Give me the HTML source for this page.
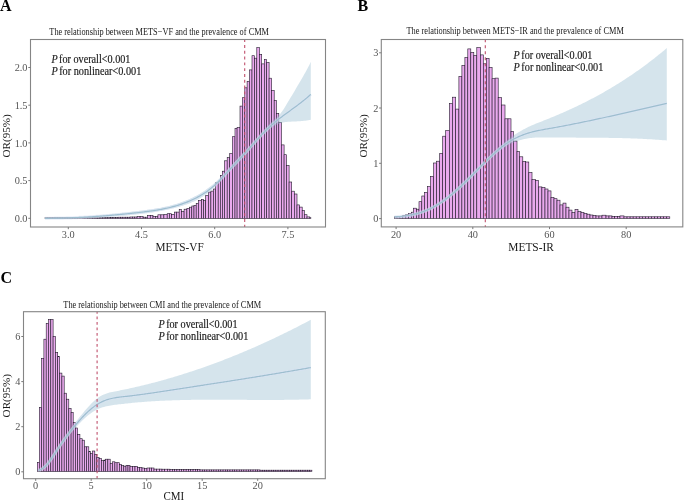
<!DOCTYPE html>
<html><head><meta charset="utf-8"><style>
html,body{margin:0;padding:0;background:#fff;width:685px;height:503px;overflow:hidden;}
svg{display:block;will-change:transform;}
</style></head><body>
<svg width="685" height="503" viewBox="0 0 685 503">
<style>
text { font-family: "Liberation Serif", serif; }
.box { fill: none; stroke: #858585; stroke-width: 1.1; }
.tk { stroke: #7a7a7a; stroke-width: 1; }
.tl { font-size: 10.3px; fill: #555; }
.ttl { font-size: 10.2px; fill: #1a1a1a; }
.pt { font-size: 11.8px; fill: #1a1a1a; stroke: #1a1a1a; stroke-width: 0.18; }
.ax { font-size: 12.4px; fill: #1a1a1a; }
.ay { font-size: 11.2px; fill: #1a1a1a; }
.lab { font-size: 16px; font-weight: bold; fill: #000; }
.bar rect { fill: #eaaaee; stroke: #20182a; stroke-width: 0.6; }
.band { fill: #97bccf; opacity: 0.4; }
.ln { fill: none; stroke: #9dbecf; stroke-width: 1.2; }
.glow { fill: none; stroke: #d8e2f4; stroke-width: 3.2; opacity: 0.55; }
.dash { stroke: #c0506c; stroke-width: 1.1; }
</style>
<rect width="685" height="503" fill="#fff"/>
<!-- Panel A -->
<text class="lab" x="0" y="10.6">A</text>
<text class="ttl" x="49.3" y="34.8" textLength="219.7" lengthAdjust="spacingAndGlyphs">The relationship between METS&#8722;VF and the prevalence of CMM</text>
<g class="bar"><rect x="45.00" y="217.70" width="2.50" height="0.70"/><rect x="47.50" y="217.70" width="2.50" height="0.70"/><rect x="50.00" y="217.70" width="2.50" height="0.70"/><rect x="52.50" y="217.70" width="2.50" height="0.70"/><rect x="55.00" y="217.70" width="2.50" height="0.70"/><rect x="57.50" y="217.70" width="2.50" height="0.70"/><rect x="60.00" y="217.70" width="2.50" height="0.70"/><rect x="62.50" y="217.70" width="2.50" height="0.70"/><rect x="65.00" y="217.70" width="2.50" height="0.70"/><rect x="67.50" y="217.70" width="2.50" height="0.70"/><rect x="70.00" y="217.70" width="2.50" height="0.70"/><rect x="72.50" y="217.70" width="2.50" height="0.70"/><rect x="75.00" y="217.70" width="2.50" height="0.70"/><rect x="77.50" y="217.70" width="2.50" height="0.70"/><rect x="80.00" y="217.70" width="2.50" height="0.70"/><rect x="82.50" y="217.70" width="2.50" height="0.70"/><rect x="85.00" y="217.70" width="2.50" height="0.70"/><rect x="87.50" y="217.70" width="2.50" height="0.70"/><rect x="90.00" y="217.70" width="2.50" height="0.70"/><rect x="92.50" y="217.70" width="2.50" height="0.70"/><rect x="95.00" y="217.70" width="2.50" height="0.70"/><rect x="97.50" y="217.70" width="2.50" height="0.70"/><rect x="100.00" y="217.60" width="2.57" height="0.80"/><rect x="102.57" y="217.60" width="2.57" height="0.80"/><rect x="105.14" y="217.60" width="2.57" height="0.80"/><rect x="107.71" y="217.60" width="2.57" height="0.80"/><rect x="110.29" y="217.60" width="2.57" height="0.80"/><rect x="112.86" y="217.60" width="2.57" height="0.80"/><rect x="115.43" y="217.60" width="2.57" height="0.80"/><rect x="118.00" y="217.20" width="2.40" height="1.20"/><rect x="120.40" y="217.20" width="2.40" height="1.20"/><rect x="122.80" y="217.20" width="2.40" height="1.20"/><rect x="125.20" y="217.20" width="2.40" height="1.20"/><rect x="127.60" y="217.20" width="2.40" height="1.20"/><rect x="130.00" y="217.00" width="2.37" height="1.40"/><rect x="132.37" y="217.00" width="2.37" height="1.40"/><rect x="134.73" y="217.00" width="2.37" height="1.40"/><rect x="137.10" y="216.50" width="3.00" height="1.90"/><rect x="140.10" y="216.50" width="3.00" height="1.90"/><rect x="143.10" y="217.20" width="2.20" height="1.20"/><rect x="145.30" y="217.20" width="2.20" height="1.20"/><rect x="147.50" y="215.40" width="2.75" height="3.00"/><rect x="150.25" y="215.40" width="2.75" height="3.00"/><rect x="153.00" y="216.50" width="2.45" height="1.90"/><rect x="155.45" y="216.50" width="2.45" height="1.90"/><rect x="157.90" y="214.80" width="3.00" height="3.60"/><rect x="160.90" y="214.80" width="3.00" height="3.60"/><rect x="163.90" y="214.60" width="3.30" height="3.80"/><rect x="167.20" y="213.70" width="2.20" height="4.70"/><rect x="169.40" y="213.70" width="2.20" height="4.70"/><rect x="171.60" y="214.30" width="2.70" height="4.10"/><rect x="174.30" y="212.10" width="2.45" height="6.30"/><rect x="176.75" y="212.10" width="2.45" height="6.30"/><rect x="179.20" y="209.60" width="2.20" height="8.80"/><rect x="181.40" y="211.30" width="2.70" height="7.10"/><rect x="184.10" y="209.20" width="2.80" height="9.20"/><rect x="186.90" y="208.30" width="2.70" height="10.10"/><rect x="189.60" y="207.20" width="2.20" height="11.20"/><rect x="191.80" y="206.00" width="2.20" height="12.40"/><rect x="194.00" y="205.50" width="2.20" height="12.90"/><rect x="196.20" y="203.50" width="2.20" height="14.90"/><rect x="198.40" y="200.50" width="3.10" height="17.90"/><rect x="201.50" y="199.40" width="2.10" height="19.00"/><rect x="203.60" y="200.50" width="2.10" height="17.90"/><rect x="205.70" y="195.30" width="2.70" height="23.10"/><rect x="208.40" y="192.10" width="2.50" height="26.30"/><rect x="210.90" y="191.10" width="2.50" height="27.30"/><rect x="213.40" y="189.00" width="2.10" height="29.40"/><rect x="215.50" y="182.70" width="2.70" height="35.70"/><rect x="218.20" y="181.70" width="2.10" height="36.70"/><rect x="220.30" y="175.40" width="2.10" height="43.00"/><rect x="222.40" y="171.20" width="2.10" height="47.20"/><rect x="224.50" y="160.80" width="2.70" height="57.60"/><rect x="227.20" y="157.60" width="2.50" height="60.80"/><rect x="229.70" y="153.50" width="2.70" height="64.90"/><rect x="232.40" y="136.70" width="2.60" height="81.70"/><rect x="235.00" y="128.40" width="2.10" height="90.00"/><rect x="237.10" y="127.30" width="2.90" height="91.10"/><rect x="240.00" y="106.10" width="2.40" height="112.30"/><rect x="242.40" y="97.70" width="2.40" height="120.70"/><rect x="244.80" y="87.80" width="2.30" height="130.60"/><rect x="247.10" y="81.40" width="2.40" height="137.00"/><rect x="249.50" y="69.90" width="2.50" height="148.50"/><rect x="252.00" y="55.70" width="2.60" height="162.70"/><rect x="254.60" y="58.20" width="2.20" height="160.20"/><rect x="256.80" y="47.60" width="2.70" height="170.80"/><rect x="259.50" y="54.30" width="2.20" height="164.10"/><rect x="261.70" y="63.90" width="2.60" height="154.50"/><rect x="264.30" y="59.60" width="2.40" height="158.80"/><rect x="266.70" y="62.50" width="2.40" height="155.90"/><rect x="269.10" y="78.20" width="2.50" height="140.20"/><rect x="271.60" y="90.40" width="2.60" height="128.00"/><rect x="274.20" y="100.40" width="2.20" height="118.00"/><rect x="276.40" y="113.40" width="2.40" height="105.00"/><rect x="278.80" y="122.30" width="2.60" height="96.10"/><rect x="281.40" y="144.90" width="2.70" height="73.50"/><rect x="284.10" y="154.70" width="2.40" height="63.70"/><rect x="286.50" y="165.60" width="2.60" height="52.80"/><rect x="289.10" y="182.00" width="2.60" height="36.40"/><rect x="291.70" y="191.20" width="2.60" height="27.20"/><rect x="294.30" y="194.00" width="2.70" height="24.40"/><rect x="297.00" y="204.90" width="2.60" height="13.50"/><rect x="299.60" y="207.10" width="2.60" height="11.30"/><rect x="302.20" y="210.40" width="2.20" height="8.00"/><rect x="304.40" y="214.70" width="2.60" height="3.70"/><rect x="307.00" y="216.90" width="2.80" height="1.50"/><rect x="309.80" y="217.70" width="1.10" height="0.70"/></g>
<path class="band" d="M45.00,217.59 L46.34,217.59 L47.67,217.59 L49.01,217.59 L50.34,217.58 L51.68,217.57 L53.01,217.56 L54.35,217.54 L55.69,217.52 L57.02,217.50 L58.36,217.47 L59.69,217.44 L61.03,217.40 L62.36,217.36 L63.70,217.32 L65.04,217.28 L66.37,217.23 L67.71,217.18 L69.04,217.13 L70.38,217.07 L71.71,217.01 L73.05,216.95 L74.38,216.88 L75.72,216.81 L77.06,216.74 L78.39,216.66 L79.73,216.59 L81.06,216.51 L82.40,216.42 L83.73,216.34 L85.07,216.25 L86.41,216.16 L87.74,216.06 L89.08,215.97 L90.41,215.87 L91.75,215.77 L93.08,215.66 L94.42,215.56 L95.76,215.45 L97.09,215.34 L98.43,215.23 L99.76,215.11 L101.10,214.99 L102.43,214.87 L103.77,214.75 L105.11,214.63 L106.44,214.50 L107.78,214.37 L109.11,214.24 L110.45,214.11 L111.78,213.98 L113.12,213.84 L114.46,213.71 L115.79,213.57 L117.13,213.42 L118.46,213.28 L119.80,213.14 L121.13,212.99 L122.47,212.84 L123.81,212.69 L125.14,212.54 L126.48,212.39 L127.81,212.24 L129.15,212.08 L130.48,211.93 L131.82,211.77 L133.15,211.61 L134.49,211.45 L135.83,211.29 L137.16,211.12 L138.50,210.96 L139.83,210.80 L141.17,210.63 L142.50,210.46 L143.84,210.29 L145.18,210.12 L146.51,209.94 L147.85,209.76 L149.18,209.58 L150.52,209.39 L151.85,209.19 L153.19,208.99 L154.53,208.79 L155.86,208.57 L157.20,208.35 L158.53,208.12 L159.87,207.88 L161.20,207.63 L162.54,207.37 L163.88,207.10 L165.21,206.81 L166.55,206.52 L167.88,206.21 L169.22,205.89 L170.55,205.56 L171.89,205.21 L173.23,204.85 L174.56,204.47 L175.90,204.08 L177.23,203.67 L178.57,203.24 L179.90,202.80 L181.24,202.34 L182.57,201.86 L183.91,201.36 L185.25,200.84 L186.58,200.29 L187.92,199.73 L189.25,199.15 L190.59,198.54 L191.92,197.91 L193.26,197.26 L194.60,196.59 L195.93,195.89 L197.27,195.16 L198.60,194.41 L199.94,193.63 L201.27,192.82 L202.61,191.99 L203.95,191.13 L205.28,190.23 L206.62,189.31 L207.95,188.35 L209.29,187.36 L210.62,186.34 L211.96,185.28 L213.30,184.19 L214.63,183.06 L215.97,181.90 L217.30,180.70 L218.64,179.46 L219.97,178.18 L221.31,176.86 L222.65,175.49 L223.98,174.09 L225.32,172.64 L226.65,171.15 L227.99,169.62 L229.32,168.05 L230.66,166.46 L231.99,164.87 L233.33,163.29 L234.67,161.73 L236.00,160.21 L237.34,158.75 L238.67,157.34 L240.01,155.98 L241.34,154.66 L242.68,153.36 L244.02,152.07 L245.35,150.78 L246.69,149.48 L248.02,148.15 L249.36,146.78 L250.69,145.36 L252.03,143.89 L253.37,142.37 L254.70,140.82 L256.04,139.24 L257.37,137.65 L258.71,136.04 L260.04,134.44 L261.38,132.84 L262.72,131.27 L264.05,129.72 L265.39,128.21 L266.72,126.74 L268.06,125.33 L269.39,123.98 L270.73,122.70 L272.07,121.49 L273.40,120.34 L274.74,119.20 L276.07,118.03 L277.41,116.79 L278.74,115.46 L280.08,113.98 L281.42,112.33 L282.75,110.46 L284.09,108.41 L285.42,106.25 L286.76,104.04 L288.09,101.82 L289.43,99.60 L290.76,97.37 L292.10,95.13 L293.44,92.89 L294.77,90.63 L296.11,88.37 L297.44,86.10 L298.78,83.81 L300.11,81.52 L301.45,79.22 L302.79,76.90 L304.12,74.58 L305.46,72.23 L306.79,69.82 L308.13,67.31 L309.46,64.66 L310.80,61.82 L310.80,119.74 L309.46,120.04 L308.13,120.30 L306.79,120.52 L305.46,120.70 L304.12,120.86 L302.79,121.00 L301.45,121.11 L300.11,121.20 L298.78,121.28 L297.44,121.35 L296.11,121.41 L294.77,121.47 L293.44,121.52 L292.10,121.58 L290.76,121.64 L289.43,121.71 L288.09,121.80 L286.76,121.92 L285.42,122.07 L284.09,122.27 L282.75,122.52 L281.42,122.84 L280.08,123.23 L278.74,123.70 L277.41,124.27 L276.07,124.93 L274.74,125.68 L273.40,126.52 L272.07,127.44 L270.73,128.44 L269.39,129.51 L268.06,130.64 L266.72,131.84 L265.39,133.09 L264.05,134.40 L262.72,135.75 L261.38,137.14 L260.04,138.56 L258.71,140.02 L257.37,141.50 L256.04,143.00 L254.70,144.52 L253.37,146.05 L252.03,147.58 L250.69,149.11 L249.36,150.64 L248.02,152.16 L246.69,153.66 L245.35,155.14 L244.02,156.59 L242.68,158.02 L241.34,159.43 L240.01,160.82 L238.67,162.20 L237.34,163.56 L236.00,164.92 L234.67,166.27 L233.33,167.62 L231.99,168.97 L230.66,170.32 L229.32,171.69 L227.99,173.06 L226.65,174.45 L225.32,175.85 L223.98,177.27 L222.65,178.68 L221.31,180.10 L219.97,181.51 L218.64,182.90 L217.30,184.28 L215.97,185.63 L214.63,186.95 L213.30,188.23 L211.96,189.47 L210.62,190.67 L209.29,191.81 L207.95,192.89 L206.62,193.92 L205.28,194.90 L203.95,195.84 L202.61,196.72 L201.27,197.56 L199.94,198.36 L198.60,199.11 L197.27,199.83 L195.93,200.51 L194.60,201.15 L193.26,201.76 L191.92,202.34 L190.59,202.89 L189.25,203.42 L187.92,203.92 L186.58,204.39 L185.25,204.85 L183.91,205.29 L182.57,205.71 L181.24,206.11 L179.90,206.50 L178.57,206.88 L177.23,207.25 L175.90,207.61 L174.56,207.96 L173.23,208.29 L171.89,208.62 L170.55,208.93 L169.22,209.24 L167.88,209.53 L166.55,209.82 L165.21,210.10 L163.88,210.36 L162.54,210.62 L161.20,210.88 L159.87,211.12 L158.53,211.35 L157.20,211.58 L155.86,211.80 L154.53,212.02 L153.19,212.22 L151.85,212.43 L150.52,212.62 L149.18,212.81 L147.85,212.99 L146.51,213.17 L145.18,213.35 L143.84,213.52 L142.50,213.68 L141.17,213.84 L139.83,214.00 L138.50,214.15 L137.16,214.31 L135.83,214.45 L134.49,214.60 L133.15,214.74 L131.82,214.87 L130.48,215.01 L129.15,215.14 L127.81,215.27 L126.48,215.39 L125.14,215.51 L123.81,215.63 L122.47,215.75 L121.13,215.86 L119.80,215.97 L118.46,216.08 L117.13,216.18 L115.79,216.29 L114.46,216.39 L113.12,216.48 L111.78,216.58 L110.45,216.67 L109.11,216.76 L107.78,216.84 L106.44,216.93 L105.11,217.01 L103.77,217.09 L102.43,217.17 L101.10,217.24 L99.76,217.32 L98.43,217.39 L97.09,217.46 L95.76,217.52 L94.42,217.59 L93.08,217.65 L91.75,217.71 L90.41,217.77 L89.08,217.83 L87.74,217.88 L86.41,217.94 L85.07,217.99 L83.73,218.04 L82.40,218.09 L81.06,218.14 L79.73,218.18 L78.39,218.23 L77.06,218.27 L75.72,218.31 L74.38,218.35 L73.05,218.39 L71.71,218.43 L70.38,218.47 L69.04,218.50 L67.71,218.54 L66.37,218.57 L65.04,218.60 L63.70,218.64 L62.36,218.67 L61.03,218.70 L59.69,218.73 L58.36,218.75 L57.02,218.78 L55.69,218.81 L54.35,218.83 L53.01,218.86 L51.68,218.88 L50.34,218.91 L49.01,218.93 L47.67,218.96 L46.34,218.98 L45.00,219.00 Z"/>
<path class="glow" d="M45.00,218.29 L46.07,218.29 L47.13,218.29 L48.20,218.28 L49.27,218.28 L50.34,218.27 L51.40,218.26 L52.47,218.25 L53.54,218.24 L54.61,218.22 L55.67,218.21 L56.74,218.19 L57.81,218.17 L58.88,218.15 L59.94,218.13 L61.01,218.10 L62.08,218.08 L63.15,218.05 L64.21,218.02 L65.28,217.99 L66.35,217.96 L67.42,217.93 L68.48,217.89 L69.55,217.86 L70.62,217.82 L71.69,217.78 L72.75,217.74 L73.82,217.69 L74.89,217.65 L75.96,217.60 L77.02,217.56 L78.09,217.51 L79.16,217.46 L80.23,217.41 L81.29,217.35 L82.36,217.30 L83.43,217.24 L84.50,217.19 L85.56,217.13 L86.63,217.07 L87.70,217.00 L88.77,216.94 L89.83,216.88 L90.90,216.81 L91.97,216.74 L93.04,216.67 L94.10,216.60 L95.17,216.53 L96.24,216.46 L97.31,216.38 L98.37,216.31 L99.44,216.23 L100.51,216.15 L101.58,216.07 L102.64,215.99 L103.71,215.91 L104.78,215.83 L105.85,215.74 L106.91,215.65 L107.98,215.57 L109.05,215.48 L110.12,215.39 L111.18,215.30 L112.25,215.20 L113.32,215.11 L114.39,215.01 L115.45,214.92 L116.52,214.82 L117.59,214.72 L118.66,214.62 L119.72,214.52 L120.79,214.41 L121.86,214.31 L122.93,214.21 L123.99,214.10 L125.06,213.99 L126.13,213.88 L127.20,213.77 L128.26,213.66 L129.33,213.55 L130.40,213.43 L131.47,213.32 L132.53,213.20 L133.60,213.09 L134.67,212.97 L135.73,212.85 L136.80,212.73 L137.87,212.61 L138.94,212.49 L140.00,212.36 L141.07,212.24 L142.14,212.11 L143.21,211.98 L144.27,211.85 L145.34,211.72 L146.41,211.59 L147.48,211.45 L148.54,211.31 L149.61,211.17 L150.68,211.02 L151.75,210.87 L152.81,210.72 L153.88,210.56 L154.95,210.39 L156.02,210.23 L157.08,210.05 L158.15,209.87 L159.22,209.69 L160.29,209.50 L161.35,209.30 L162.42,209.10 L163.49,208.89 L164.56,208.68 L165.62,208.45 L166.69,208.22 L167.76,207.98 L168.83,207.74 L169.89,207.48 L170.96,207.22 L172.03,206.95 L173.10,206.67 L174.16,206.38 L175.23,206.08 L176.30,205.77 L177.37,205.45 L178.43,205.12 L179.50,204.78 L180.57,204.43 L181.64,204.06 L182.70,203.69 L183.77,203.30 L184.84,202.90 L185.91,202.49 L186.97,202.07 L188.04,201.64 L189.11,201.19 L190.18,200.73 L191.24,200.25 L192.31,199.76 L193.38,199.26 L194.45,198.74 L195.51,198.21 L196.58,197.66 L197.65,197.10 L198.72,196.52 L199.78,195.92 L200.85,195.31 L201.92,194.67 L202.99,194.02 L204.05,193.34 L205.12,192.64 L206.19,191.92 L207.26,191.17 L208.32,190.39 L209.39,189.59 L210.46,188.76 L211.53,187.90 L212.59,187.01 L213.66,186.09 L214.73,185.13 L215.80,184.15 L216.86,183.13 L217.93,182.07 L219.00,180.99 L220.07,179.89 L221.13,178.76 L222.20,177.63 L223.27,176.48 L224.33,175.32 L225.40,174.16 L226.47,173.00 L227.54,171.85 L228.60,170.71 L229.67,169.57 L230.74,168.43 L231.81,167.30 L232.87,166.17 L233.94,165.05 L235.01,163.92 L236.08,162.79 L237.14,161.67 L238.21,160.53 L239.28,159.40 L240.35,158.26 L241.41,157.12 L242.48,155.97 L243.55,154.81 L244.62,153.64 L245.68,152.46 L246.75,151.27 L247.82,150.08 L248.89,148.88 L249.95,147.68 L251.02,146.47 L252.09,145.27 L253.16,144.06 L254.22,142.86 L255.29,141.66 L256.36,140.47 L257.43,139.29 L258.49,138.12 L259.56,136.96 L260.63,135.82 L261.70,134.69 L262.76,133.57 L263.83,132.48 L264.90,131.41 L265.97,130.36 L267.03,129.32 L268.10,128.31 L269.17,127.32 L270.24,126.34 L271.30,125.38 L272.37,124.44 L273.44,123.52 L274.51,122.61 L275.57,121.71 L276.64,120.84 L277.71,119.97 L278.78,119.12 L279.84,118.29 L280.91,117.46 L281.98,116.65 L283.05,115.84 L284.11,115.04 L285.18,114.25 L286.25,113.47 L287.32,112.69 L288.38,111.91 L289.45,111.14 L290.52,110.36 L291.59,109.59 L292.65,108.81 L293.72,108.04 L294.79,107.26 L295.86,106.47 L296.92,105.68 L297.99,104.88 L299.06,104.07 L300.13,103.26 L301.19,102.43 L302.26,101.59 L303.33,100.74 L304.40,99.88 L305.46,99.00 L306.53,98.10 L307.60,97.18 L308.67,96.25 L309.73,95.30 L310.80,94.32"/>
<path class="ln" d="M45.00,218.29 L46.07,218.29 L47.13,218.29 L48.20,218.28 L49.27,218.28 L50.34,218.27 L51.40,218.26 L52.47,218.25 L53.54,218.24 L54.61,218.22 L55.67,218.21 L56.74,218.19 L57.81,218.17 L58.88,218.15 L59.94,218.13 L61.01,218.10 L62.08,218.08 L63.15,218.05 L64.21,218.02 L65.28,217.99 L66.35,217.96 L67.42,217.93 L68.48,217.89 L69.55,217.86 L70.62,217.82 L71.69,217.78 L72.75,217.74 L73.82,217.69 L74.89,217.65 L75.96,217.60 L77.02,217.56 L78.09,217.51 L79.16,217.46 L80.23,217.41 L81.29,217.35 L82.36,217.30 L83.43,217.24 L84.50,217.19 L85.56,217.13 L86.63,217.07 L87.70,217.00 L88.77,216.94 L89.83,216.88 L90.90,216.81 L91.97,216.74 L93.04,216.67 L94.10,216.60 L95.17,216.53 L96.24,216.46 L97.31,216.38 L98.37,216.31 L99.44,216.23 L100.51,216.15 L101.58,216.07 L102.64,215.99 L103.71,215.91 L104.78,215.83 L105.85,215.74 L106.91,215.65 L107.98,215.57 L109.05,215.48 L110.12,215.39 L111.18,215.30 L112.25,215.20 L113.32,215.11 L114.39,215.01 L115.45,214.92 L116.52,214.82 L117.59,214.72 L118.66,214.62 L119.72,214.52 L120.79,214.41 L121.86,214.31 L122.93,214.21 L123.99,214.10 L125.06,213.99 L126.13,213.88 L127.20,213.77 L128.26,213.66 L129.33,213.55 L130.40,213.43 L131.47,213.32 L132.53,213.20 L133.60,213.09 L134.67,212.97 L135.73,212.85 L136.80,212.73 L137.87,212.61 L138.94,212.49 L140.00,212.36 L141.07,212.24 L142.14,212.11 L143.21,211.98 L144.27,211.85 L145.34,211.72 L146.41,211.59 L147.48,211.45 L148.54,211.31 L149.61,211.17 L150.68,211.02 L151.75,210.87 L152.81,210.72 L153.88,210.56 L154.95,210.39 L156.02,210.23 L157.08,210.05 L158.15,209.87 L159.22,209.69 L160.29,209.50 L161.35,209.30 L162.42,209.10 L163.49,208.89 L164.56,208.68 L165.62,208.45 L166.69,208.22 L167.76,207.98 L168.83,207.74 L169.89,207.48 L170.96,207.22 L172.03,206.95 L173.10,206.67 L174.16,206.38 L175.23,206.08 L176.30,205.77 L177.37,205.45 L178.43,205.12 L179.50,204.78 L180.57,204.43 L181.64,204.06 L182.70,203.69 L183.77,203.30 L184.84,202.90 L185.91,202.49 L186.97,202.07 L188.04,201.64 L189.11,201.19 L190.18,200.73 L191.24,200.25 L192.31,199.76 L193.38,199.26 L194.45,198.74 L195.51,198.21 L196.58,197.66 L197.65,197.10 L198.72,196.52 L199.78,195.92 L200.85,195.31 L201.92,194.67 L202.99,194.02 L204.05,193.34 L205.12,192.64 L206.19,191.92 L207.26,191.17 L208.32,190.39 L209.39,189.59 L210.46,188.76 L211.53,187.90 L212.59,187.01 L213.66,186.09 L214.73,185.13 L215.80,184.15 L216.86,183.13 L217.93,182.07 L219.00,180.99 L220.07,179.89 L221.13,178.76 L222.20,177.63 L223.27,176.48 L224.33,175.32 L225.40,174.16 L226.47,173.00 L227.54,171.85 L228.60,170.71 L229.67,169.57 L230.74,168.43 L231.81,167.30 L232.87,166.17 L233.94,165.05 L235.01,163.92 L236.08,162.79 L237.14,161.67 L238.21,160.53 L239.28,159.40 L240.35,158.26 L241.41,157.12 L242.48,155.97 L243.55,154.81 L244.62,153.64 L245.68,152.46 L246.75,151.27 L247.82,150.08 L248.89,148.88 L249.95,147.68 L251.02,146.47 L252.09,145.27 L253.16,144.06 L254.22,142.86 L255.29,141.66 L256.36,140.47 L257.43,139.29 L258.49,138.12 L259.56,136.96 L260.63,135.82 L261.70,134.69 L262.76,133.57 L263.83,132.48 L264.90,131.41 L265.97,130.36 L267.03,129.32 L268.10,128.31 L269.17,127.32 L270.24,126.34 L271.30,125.38 L272.37,124.44 L273.44,123.52 L274.51,122.61 L275.57,121.71 L276.64,120.84 L277.71,119.97 L278.78,119.12 L279.84,118.29 L280.91,117.46 L281.98,116.65 L283.05,115.84 L284.11,115.04 L285.18,114.25 L286.25,113.47 L287.32,112.69 L288.38,111.91 L289.45,111.14 L290.52,110.36 L291.59,109.59 L292.65,108.81 L293.72,108.04 L294.79,107.26 L295.86,106.47 L296.92,105.68 L297.99,104.88 L299.06,104.07 L300.13,103.26 L301.19,102.43 L302.26,101.59 L303.33,100.74 L304.40,99.88 L305.46,99.00 L306.53,98.10 L307.60,97.18 L308.67,96.25 L309.73,95.30 L310.80,94.32"/>
<line class="dash" x1="244.7" y1="39.5" x2="244.7" y2="227" stroke-dasharray="2.90 2.90" stroke-dashoffset="0.3"/>
<text class="pt" x="51.4" y="62.6" textLength="79.0" lengthAdjust="spacingAndGlyphs"><tspan font-style="italic">P</tspan><tspan dx="-1.2"> for overall&lt;0.001</tspan></text><text class="pt" x="51.4" y="74.6" textLength="89.9" lengthAdjust="spacingAndGlyphs"><tspan font-style="italic">P</tspan><tspan dx="-1.2"> for nonlinear&lt;0.001</tspan></text>
<rect class="box" x="30.5" y="39.5" width="295.0" height="187.5"/>
<line class="tk" x1="28.3" y1="218.3" x2="30.5" y2="218.3"/><text class="tl" x="27.5" y="221.9" text-anchor="end">0.0</text><line class="tk" x1="28.3" y1="180.6" x2="30.5" y2="180.6"/><text class="tl" x="27.5" y="184.2" text-anchor="end">0.5</text><line class="tk" x1="28.3" y1="142.9" x2="30.5" y2="142.9"/><text class="tl" x="27.5" y="146.5" text-anchor="end">1.0</text><line class="tk" x1="28.3" y1="105.2" x2="30.5" y2="105.2"/><text class="tl" x="27.5" y="108.8" text-anchor="end">1.5</text><line class="tk" x1="28.3" y1="67.5" x2="30.5" y2="67.5"/><text class="tl" x="27.5" y="71.1" text-anchor="end">2.0</text>
<line class="tk" x1="68.3" y1="227" x2="68.3" y2="229.2"/><text class="tl" x="68.3" y="238.2" text-anchor="middle">3.0</text><line class="tk" x1="141.5" y1="227" x2="141.5" y2="229.2"/><text class="tl" x="141.5" y="238.2" text-anchor="middle">4.5</text><line class="tk" x1="214.7" y1="227" x2="214.7" y2="229.2"/><text class="tl" x="214.7" y="238.2" text-anchor="middle">6.0</text><line class="tk" x1="287.9" y1="227" x2="287.9" y2="229.2"/><text class="tl" x="287.9" y="238.2" text-anchor="middle">7.5</text>
<text class="ax" x="155.5" y="251.3" textLength="48.2" lengthAdjust="spacingAndGlyphs">METS-VF</text>
<text class="ay" transform="translate(10.4,157.5) rotate(-90)" textLength="43.3" lengthAdjust="spacingAndGlyphs">OR(95%)</text>
<!-- Panel B -->
<text class="lab" x="357.5" y="10.6">B</text>
<text class="ttl" x="406.4" y="34.3" textLength="217.4" lengthAdjust="spacingAndGlyphs">The relationship between METS&#8722;IR and the prevalence of CMM</text>
<g class="bar"><rect x="394.50" y="216.90" width="2.50" height="1.40"/><rect x="397.00" y="216.30" width="2.90" height="2.00"/><rect x="399.90" y="216.30" width="2.90" height="2.00"/><rect x="402.80" y="215.30" width="3.00" height="3.00"/><rect x="405.80" y="214.30" width="2.80" height="4.00"/><rect x="408.60" y="213.30" width="2.70" height="5.00"/><rect x="411.30" y="212.20" width="2.00" height="6.10"/><rect x="413.30" y="208.20" width="3.10" height="10.10"/><rect x="416.40" y="209.20" width="2.60" height="9.10"/><rect x="419.00" y="201.70" width="2.80" height="16.60"/><rect x="421.80" y="196.00" width="2.70" height="22.30"/><rect x="424.50" y="192.40" width="3.00" height="25.90"/><rect x="427.50" y="186.50" width="3.00" height="31.80"/><rect x="430.50" y="176.40" width="3.10" height="41.90"/><rect x="433.60" y="163.00" width="3.00" height="55.30"/><rect x="436.60" y="161.20" width="3.10" height="57.10"/><rect x="439.70" y="153.40" width="3.00" height="64.90"/><rect x="442.70" y="136.20" width="3.00" height="82.10"/><rect x="445.70" y="130.50" width="3.70" height="87.80"/><rect x="449.40" y="103.60" width="3.10" height="114.70"/><rect x="452.50" y="97.20" width="3.20" height="121.10"/><rect x="455.70" y="109.10" width="3.20" height="109.20"/><rect x="458.90" y="76.40" width="3.00" height="141.90"/><rect x="461.90" y="65.40" width="3.00" height="152.90"/><rect x="464.90" y="57.50" width="2.90" height="160.80"/><rect x="467.80" y="48.90" width="3.00" height="169.40"/><rect x="470.80" y="52.30" width="3.00" height="166.00"/><rect x="473.80" y="55.50" width="3.00" height="162.80"/><rect x="476.80" y="47.60" width="3.60" height="170.70"/><rect x="480.40" y="54.90" width="2.90" height="163.40"/><rect x="483.30" y="63.80" width="3.00" height="154.50"/><rect x="486.30" y="58.30" width="2.80" height="160.00"/><rect x="489.10" y="67.40" width="3.00" height="150.90"/><rect x="492.10" y="78.70" width="3.00" height="139.60"/><rect x="495.10" y="78.10" width="3.10" height="140.20"/><rect x="498.20" y="97.60" width="3.40" height="120.70"/><rect x="501.60" y="105.00" width="3.40" height="113.30"/><rect x="505.00" y="118.80" width="3.00" height="99.50"/><rect x="508.00" y="118.80" width="3.00" height="99.50"/><rect x="511.00" y="131.40" width="2.60" height="86.90"/><rect x="513.60" y="141.10" width="3.40" height="77.20"/><rect x="517.00" y="151.60" width="2.60" height="66.70"/><rect x="519.60" y="156.80" width="3.20" height="61.50"/><rect x="522.80" y="161.30" width="2.90" height="57.00"/><rect x="525.70" y="162.00" width="3.10" height="56.30"/><rect x="528.80" y="172.50" width="3.20" height="45.80"/><rect x="532.00" y="179.60" width="3.40" height="38.70"/><rect x="535.40" y="180.40" width="3.10" height="37.90"/><rect x="538.50" y="186.90" width="3.40" height="31.40"/><rect x="541.90" y="187.50" width="3.10" height="30.80"/><rect x="545.00" y="189.00" width="3.00" height="29.30"/><rect x="548.00" y="190.90" width="3.00" height="27.40"/><rect x="551.00" y="197.40" width="3.00" height="20.90"/><rect x="554.00" y="198.70" width="3.00" height="19.60"/><rect x="557.00" y="200.20" width="3.00" height="18.10"/><rect x="560.00" y="204.90" width="3.00" height="13.40"/><rect x="563.00" y="203.10" width="3.00" height="15.20"/><rect x="566.00" y="207.20" width="3.00" height="11.10"/><rect x="569.00" y="210.10" width="3.00" height="8.20"/><rect x="572.00" y="212.40" width="3.00" height="5.90"/><rect x="575.00" y="209.40" width="3.00" height="8.90"/><rect x="578.00" y="211.50" width="3.00" height="6.80"/><rect x="581.00" y="212.40" width="3.00" height="5.90"/><rect x="584.00" y="213.30" width="3.00" height="5.00"/><rect x="587.00" y="214.20" width="3.00" height="4.10"/><rect x="590.00" y="215.00" width="3.00" height="3.30"/><rect x="593.00" y="215.40" width="3.00" height="2.90"/><rect x="596.00" y="215.90" width="3.00" height="2.40"/><rect x="599.00" y="215.90" width="3.00" height="2.40"/><rect x="602.00" y="215.20" width="4.00" height="3.10"/><rect x="606.00" y="215.90" width="3.00" height="2.40"/><rect x="609.00" y="215.90" width="3.00" height="2.40"/><rect x="612.00" y="216.40" width="2.67" height="1.90"/><rect x="614.67" y="216.40" width="2.67" height="1.90"/><rect x="617.33" y="216.40" width="2.67" height="1.90"/><rect x="620.00" y="215.90" width="4.00" height="2.40"/><rect x="624.00" y="216.80" width="3.05" height="1.50"/><rect x="627.05" y="216.80" width="3.05" height="1.50"/><rect x="630.11" y="216.80" width="3.05" height="1.50"/><rect x="633.16" y="216.80" width="3.05" height="1.50"/><rect x="636.21" y="216.80" width="3.05" height="1.50"/><rect x="639.27" y="216.80" width="3.05" height="1.50"/><rect x="642.32" y="216.80" width="3.05" height="1.50"/><rect x="645.37" y="216.80" width="3.05" height="1.50"/><rect x="648.43" y="216.80" width="3.05" height="1.50"/><rect x="651.48" y="216.80" width="3.05" height="1.50"/><rect x="654.53" y="216.80" width="3.05" height="1.50"/><rect x="657.59" y="216.80" width="3.05" height="1.50"/><rect x="660.64" y="216.80" width="3.05" height="1.50"/><rect x="663.69" y="216.80" width="3.05" height="1.50"/><rect x="666.75" y="216.80" width="3.05" height="1.50"/></g>
<path class="band" d="M394.60,216.23 L395.97,216.36 L397.34,216.46 L398.70,216.51 L400.07,216.52 L401.44,216.49 L402.81,216.42 L404.17,216.31 L405.54,216.15 L406.91,215.96 L408.28,215.74 L409.65,215.47 L411.01,215.17 L412.38,214.83 L413.75,214.45 L415.12,214.04 L416.49,213.60 L417.85,213.12 L419.22,212.61 L420.59,212.06 L421.96,211.49 L423.32,210.88 L424.69,210.24 L426.06,209.56 L427.43,208.86 L428.80,208.13 L430.16,207.37 L431.53,206.59 L432.90,205.77 L434.27,204.93 L435.64,204.06 L437.00,203.17 L438.37,202.25 L439.74,201.30 L441.11,200.34 L442.47,199.34 L443.84,198.33 L445.21,197.29 L446.58,196.23 L447.95,195.15 L449.31,194.05 L450.68,192.93 L452.05,191.79 L453.42,190.63 L454.78,189.46 L456.15,188.26 L457.52,187.05 L458.89,185.82 L460.26,184.58 L461.62,183.32 L462.99,182.05 L464.36,180.76 L465.73,179.46 L467.10,178.15 L468.46,176.82 L469.83,175.48 L471.20,174.13 L472.57,172.77 L473.93,171.40 L475.30,170.03 L476.67,168.65 L478.04,167.26 L479.41,165.87 L480.77,164.49 L482.14,163.10 L483.51,161.72 L484.88,160.34 L486.25,158.98 L487.61,157.62 L488.98,156.27 L490.35,154.93 L491.72,153.61 L493.08,152.31 L494.45,151.03 L495.82,149.76 L497.19,148.52 L498.56,147.30 L499.92,146.11 L501.29,144.94 L502.66,143.79 L504.03,142.66 L505.39,141.56 L506.76,140.49 L508.13,139.44 L509.50,138.41 L510.87,137.41 L512.23,136.44 L513.60,135.49 L514.97,134.57 L516.34,133.68 L517.71,132.81 L519.07,131.97 L520.44,131.16 L521.81,130.38 L523.18,129.62 L524.54,128.90 L525.91,128.20 L527.28,127.52 L528.65,126.87 L530.02,126.24 L531.38,125.62 L532.75,125.02 L534.12,124.44 L535.49,123.87 L536.86,123.30 L538.22,122.75 L539.59,122.21 L540.96,121.66 L542.33,121.13 L543.69,120.59 L545.06,120.05 L546.43,119.51 L547.80,118.96 L549.17,118.41 L550.53,117.85 L551.90,117.30 L553.27,116.73 L554.64,116.16 L556.01,115.59 L557.37,115.01 L558.74,114.43 L560.11,113.84 L561.48,113.25 L562.84,112.65 L564.21,112.05 L565.58,111.44 L566.95,110.83 L568.32,110.21 L569.68,109.59 L571.05,108.96 L572.42,108.33 L573.79,107.69 L575.15,107.05 L576.52,106.40 L577.89,105.74 L579.26,105.08 L580.63,104.41 L581.99,103.74 L583.36,103.06 L584.73,102.38 L586.10,101.69 L587.47,100.99 L588.83,100.29 L590.20,99.58 L591.57,98.86 L592.94,98.14 L594.30,97.42 L595.67,96.68 L597.04,95.94 L598.41,95.19 L599.78,94.44 L601.14,93.68 L602.51,92.91 L603.88,92.14 L605.25,91.36 L606.62,90.57 L607.98,89.77 L609.35,88.97 L610.72,88.16 L612.09,87.35 L613.45,86.52 L614.82,85.69 L616.19,84.85 L617.56,84.01 L618.93,83.15 L620.29,82.29 L621.66,81.42 L623.03,80.55 L624.40,79.66 L625.76,78.77 L627.13,77.87 L628.50,76.97 L629.87,76.05 L631.24,75.13 L632.60,74.20 L633.97,73.26 L635.34,72.31 L636.71,71.35 L638.08,70.39 L639.44,69.41 L640.81,68.43 L642.18,67.44 L643.55,66.44 L644.91,65.44 L646.28,64.42 L647.65,63.39 L649.02,62.36 L650.39,61.32 L651.75,60.27 L653.12,59.20 L654.49,58.13 L655.86,57.06 L657.23,55.97 L658.59,54.87 L659.96,53.76 L661.33,52.65 L662.70,51.52 L664.06,50.38 L665.43,49.24 L666.80,48.08 L666.80,140.49 L665.43,140.37 L664.06,140.26 L662.70,140.15 L661.33,140.04 L659.96,139.93 L658.59,139.83 L657.23,139.73 L655.86,139.64 L654.49,139.54 L653.12,139.45 L651.75,139.37 L650.39,139.28 L649.02,139.20 L647.65,139.13 L646.28,139.05 L644.91,138.98 L643.55,138.91 L642.18,138.84 L640.81,138.78 L639.44,138.72 L638.08,138.66 L636.71,138.60 L635.34,138.55 L633.97,138.49 L632.60,138.44 L631.24,138.39 L629.87,138.35 L628.50,138.30 L627.13,138.26 L625.76,138.22 L624.40,138.19 L623.03,138.15 L621.66,138.11 L620.29,138.08 L618.93,138.05 L617.56,138.02 L616.19,137.99 L614.82,137.97 L613.45,137.94 L612.09,137.92 L610.72,137.90 L609.35,137.88 L607.98,137.86 L606.62,137.84 L605.25,137.82 L603.88,137.81 L602.51,137.79 L601.14,137.78 L599.78,137.76 L598.41,137.75 L597.04,137.74 L595.67,137.73 L594.30,137.72 L592.94,137.71 L591.57,137.70 L590.20,137.69 L588.83,137.69 L587.47,137.68 L586.10,137.67 L584.73,137.66 L583.36,137.66 L581.99,137.65 L580.63,137.64 L579.26,137.64 L577.89,137.63 L576.52,137.63 L575.15,137.62 L573.79,137.61 L572.42,137.61 L571.05,137.60 L569.68,137.59 L568.32,137.59 L566.95,137.58 L565.58,137.57 L564.21,137.56 L562.84,137.55 L561.48,137.54 L560.11,137.53 L558.74,137.52 L557.37,137.51 L556.01,137.49 L554.64,137.48 L553.27,137.46 L551.90,137.45 L550.53,137.43 L549.17,137.41 L547.80,137.40 L546.43,137.39 L545.06,137.38 L543.69,137.38 L542.33,137.39 L540.96,137.41 L539.59,137.44 L538.22,137.49 L536.86,137.54 L535.49,137.62 L534.12,137.71 L532.75,137.83 L531.38,137.96 L530.02,138.12 L528.65,138.30 L527.28,138.51 L525.91,138.75 L524.54,139.01 L523.18,139.31 L521.81,139.64 L520.44,140.00 L519.07,140.40 L517.71,140.84 L516.34,141.31 L514.97,141.83 L513.60,142.39 L512.23,142.99 L510.87,143.64 L509.50,144.34 L508.13,145.08 L506.76,145.88 L505.39,146.72 L504.03,147.63 L502.66,148.58 L501.29,149.58 L499.92,150.63 L498.56,151.72 L497.19,152.86 L495.82,154.03 L494.45,155.23 L493.08,156.47 L491.72,157.74 L490.35,159.03 L488.98,160.35 L487.61,161.68 L486.25,163.04 L484.88,164.41 L483.51,165.79 L482.14,167.18 L480.77,168.58 L479.41,169.98 L478.04,171.38 L476.67,172.77 L475.30,174.17 L473.93,175.55 L472.57,176.92 L471.20,178.28 L469.83,179.63 L468.46,180.95 L467.10,182.27 L465.73,183.56 L464.36,184.84 L462.99,186.10 L461.62,187.34 L460.26,188.56 L458.89,189.76 L457.52,190.95 L456.15,192.11 L454.78,193.26 L453.42,194.38 L452.05,195.49 L450.68,196.57 L449.31,197.63 L447.95,198.67 L446.58,199.68 L445.21,200.68 L443.84,201.65 L442.47,202.60 L441.11,203.52 L439.74,204.42 L438.37,205.29 L437.00,206.14 L435.64,206.96 L434.27,207.76 L432.90,208.53 L431.53,209.28 L430.16,210.00 L428.80,210.69 L427.43,211.35 L426.06,211.98 L424.69,212.59 L423.32,213.16 L421.96,213.71 L420.59,214.23 L419.22,214.72 L417.85,215.17 L416.49,215.60 L415.12,215.99 L413.75,216.35 L412.38,216.68 L411.01,216.98 L409.65,217.25 L408.28,217.48 L406.91,217.68 L405.54,217.84 L404.17,217.97 L402.81,218.06 L401.44,218.12 L400.07,218.15 L398.70,218.13 L397.34,218.09 L395.97,218.00 L394.60,217.88 Z"/>
<path class="glow" d="M394.60,216.95 L395.69,216.87 L396.79,216.79 L397.88,216.70 L398.97,216.61 L400.07,216.50 L401.16,216.38 L402.25,216.26 L403.35,216.13 L404.44,215.98 L405.53,215.83 L406.62,215.67 L407.72,215.49 L408.81,215.31 L409.90,215.11 L411.00,214.90 L412.09,214.67 L413.18,214.43 L414.28,214.18 L415.37,213.92 L416.46,213.64 L417.56,213.35 L418.65,213.04 L419.74,212.71 L420.84,212.37 L421.93,212.01 L423.02,211.64 L424.12,211.25 L425.21,210.84 L426.30,210.41 L427.40,209.96 L428.49,209.49 L429.58,209.01 L430.67,208.50 L431.77,207.98 L432.86,207.43 L433.95,206.87 L435.05,206.28 L436.14,205.67 L437.23,205.03 L438.33,204.38 L439.42,203.70 L440.51,203.00 L441.61,202.27 L442.70,201.52 L443.79,200.75 L444.89,199.96 L445.98,199.15 L447.07,198.31 L448.17,197.46 L449.26,196.59 L450.35,195.70 L451.44,194.79 L452.54,193.87 L453.63,192.93 L454.72,191.98 L455.82,191.01 L456.91,190.02 L458.00,189.03 L459.10,188.02 L460.19,187.00 L461.28,185.97 L462.38,184.92 L463.47,183.87 L464.56,182.81 L465.66,181.74 L466.75,180.66 L467.84,179.58 L468.94,178.49 L470.03,177.39 L471.12,176.29 L472.22,175.18 L473.31,174.07 L474.40,172.96 L475.49,171.84 L476.59,170.73 L477.68,169.61 L478.77,168.50 L479.87,167.39 L480.96,166.28 L482.05,165.18 L483.15,164.08 L484.24,162.98 L485.33,161.90 L486.43,160.82 L487.52,159.75 L488.61,158.69 L489.71,157.64 L490.80,156.60 L491.89,155.58 L492.99,154.56 L494.08,153.57 L495.17,152.59 L496.27,151.62 L497.36,150.67 L498.45,149.74 L499.54,148.83 L500.64,147.94 L501.73,147.08 L502.82,146.23 L503.92,145.41 L505.01,144.61 L506.10,143.83 L507.20,143.08 L508.29,142.36 L509.38,141.66 L510.48,140.98 L511.57,140.33 L512.66,139.70 L513.76,139.09 L514.85,138.51 L515.94,137.95 L517.04,137.42 L518.13,136.91 L519.22,136.41 L520.31,135.94 L521.41,135.50 L522.50,135.07 L523.59,134.65 L524.69,134.26 L525.78,133.88 L526.87,133.53 L527.97,133.18 L529.06,132.85 L530.15,132.54 L531.25,132.24 L532.34,131.95 L533.43,131.67 L534.53,131.41 L535.62,131.15 L536.71,130.91 L537.81,130.67 L538.90,130.44 L539.99,130.22 L541.09,130.01 L542.18,129.80 L543.27,129.59 L544.36,129.39 L545.46,129.20 L546.55,129.01 L547.64,128.81 L548.74,128.62 L549.83,128.43 L550.92,128.24 L552.02,128.05 L553.11,127.86 L554.20,127.67 L555.30,127.47 L556.39,127.27 L557.48,127.07 L558.58,126.87 L559.67,126.67 L560.76,126.47 L561.86,126.26 L562.95,126.06 L564.04,125.85 L565.13,125.64 L566.23,125.43 L567.32,125.22 L568.41,125.01 L569.51,124.79 L570.60,124.58 L571.69,124.36 L572.79,124.15 L573.88,123.93 L574.97,123.71 L576.07,123.49 L577.16,123.27 L578.25,123.05 L579.35,122.83 L580.44,122.60 L581.53,122.38 L582.63,122.15 L583.72,121.93 L584.81,121.70 L585.91,121.48 L587.00,121.25 L588.09,121.02 L589.18,120.79 L590.28,120.56 L591.37,120.33 L592.46,120.10 L593.56,119.86 L594.65,119.63 L595.74,119.40 L596.84,119.16 L597.93,118.93 L599.02,118.69 L600.12,118.46 L601.21,118.22 L602.30,117.98 L603.40,117.74 L604.49,117.50 L605.58,117.26 L606.68,117.02 L607.77,116.78 L608.86,116.54 L609.96,116.30 L611.05,116.06 L612.14,115.82 L613.23,115.57 L614.33,115.33 L615.42,115.09 L616.51,114.84 L617.61,114.60 L618.70,114.35 L619.79,114.11 L620.89,113.86 L621.98,113.62 L623.07,113.37 L624.17,113.12 L625.26,112.88 L626.35,112.63 L627.45,112.38 L628.54,112.13 L629.63,111.88 L630.73,111.64 L631.82,111.39 L632.91,111.14 L634.00,110.89 L635.10,110.64 L636.19,110.39 L637.28,110.14 L638.38,109.89 L639.47,109.64 L640.56,109.39 L641.66,109.14 L642.75,108.89 L643.84,108.63 L644.94,108.38 L646.03,108.13 L647.12,107.88 L648.22,107.63 L649.31,107.38 L650.40,107.13 L651.50,106.88 L652.59,106.62 L653.68,106.37 L654.78,106.12 L655.87,105.87 L656.96,105.62 L658.05,105.37 L659.15,105.12 L660.24,104.86 L661.33,104.61 L662.43,104.36 L663.52,104.11 L664.61,103.86 L665.71,103.61 L666.80,103.36"/>
<path class="ln" d="M394.60,216.95 L395.69,216.87 L396.79,216.79 L397.88,216.70 L398.97,216.61 L400.07,216.50 L401.16,216.38 L402.25,216.26 L403.35,216.13 L404.44,215.98 L405.53,215.83 L406.62,215.67 L407.72,215.49 L408.81,215.31 L409.90,215.11 L411.00,214.90 L412.09,214.67 L413.18,214.43 L414.28,214.18 L415.37,213.92 L416.46,213.64 L417.56,213.35 L418.65,213.04 L419.74,212.71 L420.84,212.37 L421.93,212.01 L423.02,211.64 L424.12,211.25 L425.21,210.84 L426.30,210.41 L427.40,209.96 L428.49,209.49 L429.58,209.01 L430.67,208.50 L431.77,207.98 L432.86,207.43 L433.95,206.87 L435.05,206.28 L436.14,205.67 L437.23,205.03 L438.33,204.38 L439.42,203.70 L440.51,203.00 L441.61,202.27 L442.70,201.52 L443.79,200.75 L444.89,199.96 L445.98,199.15 L447.07,198.31 L448.17,197.46 L449.26,196.59 L450.35,195.70 L451.44,194.79 L452.54,193.87 L453.63,192.93 L454.72,191.98 L455.82,191.01 L456.91,190.02 L458.00,189.03 L459.10,188.02 L460.19,187.00 L461.28,185.97 L462.38,184.92 L463.47,183.87 L464.56,182.81 L465.66,181.74 L466.75,180.66 L467.84,179.58 L468.94,178.49 L470.03,177.39 L471.12,176.29 L472.22,175.18 L473.31,174.07 L474.40,172.96 L475.49,171.84 L476.59,170.73 L477.68,169.61 L478.77,168.50 L479.87,167.39 L480.96,166.28 L482.05,165.18 L483.15,164.08 L484.24,162.98 L485.33,161.90 L486.43,160.82 L487.52,159.75 L488.61,158.69 L489.71,157.64 L490.80,156.60 L491.89,155.58 L492.99,154.56 L494.08,153.57 L495.17,152.59 L496.27,151.62 L497.36,150.67 L498.45,149.74 L499.54,148.83 L500.64,147.94 L501.73,147.08 L502.82,146.23 L503.92,145.41 L505.01,144.61 L506.10,143.83 L507.20,143.08 L508.29,142.36 L509.38,141.66 L510.48,140.98 L511.57,140.33 L512.66,139.70 L513.76,139.09 L514.85,138.51 L515.94,137.95 L517.04,137.42 L518.13,136.91 L519.22,136.41 L520.31,135.94 L521.41,135.50 L522.50,135.07 L523.59,134.65 L524.69,134.26 L525.78,133.88 L526.87,133.53 L527.97,133.18 L529.06,132.85 L530.15,132.54 L531.25,132.24 L532.34,131.95 L533.43,131.67 L534.53,131.41 L535.62,131.15 L536.71,130.91 L537.81,130.67 L538.90,130.44 L539.99,130.22 L541.09,130.01 L542.18,129.80 L543.27,129.59 L544.36,129.39 L545.46,129.20 L546.55,129.01 L547.64,128.81 L548.74,128.62 L549.83,128.43 L550.92,128.24 L552.02,128.05 L553.11,127.86 L554.20,127.67 L555.30,127.47 L556.39,127.27 L557.48,127.07 L558.58,126.87 L559.67,126.67 L560.76,126.47 L561.86,126.26 L562.95,126.06 L564.04,125.85 L565.13,125.64 L566.23,125.43 L567.32,125.22 L568.41,125.01 L569.51,124.79 L570.60,124.58 L571.69,124.36 L572.79,124.15 L573.88,123.93 L574.97,123.71 L576.07,123.49 L577.16,123.27 L578.25,123.05 L579.35,122.83 L580.44,122.60 L581.53,122.38 L582.63,122.15 L583.72,121.93 L584.81,121.70 L585.91,121.48 L587.00,121.25 L588.09,121.02 L589.18,120.79 L590.28,120.56 L591.37,120.33 L592.46,120.10 L593.56,119.86 L594.65,119.63 L595.74,119.40 L596.84,119.16 L597.93,118.93 L599.02,118.69 L600.12,118.46 L601.21,118.22 L602.30,117.98 L603.40,117.74 L604.49,117.50 L605.58,117.26 L606.68,117.02 L607.77,116.78 L608.86,116.54 L609.96,116.30 L611.05,116.06 L612.14,115.82 L613.23,115.57 L614.33,115.33 L615.42,115.09 L616.51,114.84 L617.61,114.60 L618.70,114.35 L619.79,114.11 L620.89,113.86 L621.98,113.62 L623.07,113.37 L624.17,113.12 L625.26,112.88 L626.35,112.63 L627.45,112.38 L628.54,112.13 L629.63,111.88 L630.73,111.64 L631.82,111.39 L632.91,111.14 L634.00,110.89 L635.10,110.64 L636.19,110.39 L637.28,110.14 L638.38,109.89 L639.47,109.64 L640.56,109.39 L641.66,109.14 L642.75,108.89 L643.84,108.63 L644.94,108.38 L646.03,108.13 L647.12,107.88 L648.22,107.63 L649.31,107.38 L650.40,107.13 L651.50,106.88 L652.59,106.62 L653.68,106.37 L654.78,106.12 L655.87,105.87 L656.96,105.62 L658.05,105.37 L659.15,105.12 L660.24,104.86 L661.33,104.61 L662.43,104.36 L663.52,104.11 L664.61,103.86 L665.71,103.61 L666.80,103.36"/>
<line class="dash" x1="485.3" y1="39.5" x2="485.3" y2="227" stroke-dasharray="3.00 3.00" stroke-dashoffset="0.3"/>
<text class="pt" x="513.6" y="58.6" textLength="78.8" lengthAdjust="spacingAndGlyphs"><tspan font-style="italic">P</tspan><tspan dx="-1.2"> for overall&lt;0.001</tspan></text><text class="pt" x="513.6" y="71.0" textLength="89.7" lengthAdjust="spacingAndGlyphs"><tspan font-style="italic">P</tspan><tspan dx="-1.2"> for nonlinear&lt;0.001</tspan></text>
<rect class="box" x="381.3" y="39.5" width="301.49999999999994" height="187.4"/>
<line class="tk" x1="379.1" y1="218.6" x2="381.3" y2="218.6"/><text class="tl" x="378.3" y="222.2" text-anchor="end">0</text><line class="tk" x1="379.1" y1="163.3" x2="381.3" y2="163.3"/><text class="tl" x="378.3" y="166.9" text-anchor="end">1</text><line class="tk" x1="379.1" y1="108.0" x2="381.3" y2="108.0"/><text class="tl" x="378.3" y="111.6" text-anchor="end">2</text><line class="tk" x1="379.1" y1="52.8" x2="381.3" y2="52.8"/><text class="tl" x="378.3" y="56.4" text-anchor="end">3</text>
<line class="tk" x1="396.1" y1="226.9" x2="396.1" y2="229.1"/><text class="tl" x="396.1" y="238.2" text-anchor="middle">20</text><line class="tk" x1="472.8" y1="226.9" x2="472.8" y2="229.1"/><text class="tl" x="472.8" y="238.2" text-anchor="middle">40</text><line class="tk" x1="549.5" y1="226.9" x2="549.5" y2="229.1"/><text class="tl" x="549.5" y="238.2" text-anchor="middle">60</text><line class="tk" x1="626.2" y1="226.9" x2="626.2" y2="229.1"/><text class="tl" x="626.2" y="238.2" text-anchor="middle">80</text>
<text class="ax" x="508.3" y="250.9" textLength="45.6" lengthAdjust="spacingAndGlyphs">METS-IR</text>
<text class="ay" transform="translate(367.2,157.5) rotate(-90)" textLength="43.3" lengthAdjust="spacingAndGlyphs">OR(95%)</text>
<!-- Panel C -->
<text class="lab" x="0.5" y="282.6">C</text>
<text class="ttl" x="63.3" y="307.7" textLength="197.9" lengthAdjust="spacingAndGlyphs">The relationship between CMI and the prevalence of CMM</text>
<g class="bar"><rect x="37.30" y="462.40" width="2.00" height="9.00"/><rect x="39.30" y="407.40" width="2.30" height="64.00"/><rect x="41.60" y="358.30" width="2.30" height="113.10"/><rect x="43.90" y="339.20" width="2.30" height="132.20"/><rect x="46.20" y="323.30" width="2.30" height="148.10"/><rect x="48.50" y="319.50" width="2.30" height="151.90"/><rect x="50.80" y="319.50" width="2.30" height="151.90"/><rect x="53.10" y="336.50" width="2.30" height="134.90"/><rect x="55.40" y="352.40" width="2.30" height="119.00"/><rect x="57.70" y="356.40" width="1.90" height="115.00"/><rect x="59.60" y="373.10" width="2.30" height="98.30"/><rect x="61.90" y="376.10" width="2.30" height="95.30"/><rect x="64.20" y="393.20" width="2.30" height="78.20"/><rect x="66.50" y="399.20" width="2.30" height="72.20"/><rect x="68.80" y="408.40" width="2.30" height="63.00"/><rect x="71.10" y="412.30" width="2.10" height="59.10"/><rect x="73.20" y="422.60" width="2.20" height="48.80"/><rect x="75.40" y="428.00" width="2.20" height="43.40"/><rect x="77.60" y="434.30" width="2.30" height="37.10"/><rect x="79.90" y="438.70" width="2.30" height="32.70"/><rect x="82.20" y="440.20" width="2.20" height="31.20"/><rect x="84.40" y="446.80" width="2.20" height="24.60"/><rect x="86.60" y="446.80" width="2.20" height="24.60"/><rect x="88.80" y="451.30" width="1.70" height="20.10"/><rect x="90.50" y="453.40" width="2.00" height="18.00"/><rect x="92.50" y="451.00" width="2.30" height="20.40"/><rect x="94.80" y="454.50" width="2.00" height="16.90"/><rect x="96.80" y="457.40" width="2.30" height="14.00"/><rect x="99.10" y="458.60" width="2.30" height="12.80"/><rect x="101.40" y="460.60" width="2.40" height="10.80"/><rect x="103.80" y="460.10" width="1.70" height="11.30"/><rect x="105.50" y="459.20" width="2.35" height="12.20"/><rect x="107.85" y="459.20" width="2.35" height="12.20"/><rect x="110.20" y="463.30" width="2.30" height="8.10"/><rect x="112.50" y="461.80" width="2.40" height="9.60"/><rect x="114.90" y="462.70" width="2.20" height="8.70"/><rect x="117.10" y="462.70" width="2.20" height="8.70"/><rect x="119.30" y="464.50" width="2.30" height="6.90"/><rect x="121.60" y="465.60" width="2.20" height="5.80"/><rect x="123.80" y="466.20" width="2.20" height="5.20"/><rect x="126.00" y="465.30" width="2.00" height="6.10"/><rect x="128.00" y="465.30" width="2.00" height="6.10"/><rect x="130.00" y="466.40" width="2.50" height="5.00"/><rect x="132.50" y="466.40" width="2.50" height="5.00"/><rect x="135.00" y="466.40" width="2.50" height="5.00"/><rect x="137.50" y="467.40" width="2.25" height="4.00"/><rect x="139.75" y="467.40" width="2.25" height="4.00"/><rect x="142.00" y="468.00" width="2.50" height="3.40"/><rect x="144.50" y="468.50" width="2.50" height="2.90"/><rect x="147.00" y="468.00" width="2.33" height="3.40"/><rect x="149.33" y="468.00" width="2.33" height="3.40"/><rect x="151.67" y="468.00" width="2.33" height="3.40"/><rect x="154.00" y="469.10" width="2.67" height="2.30"/><rect x="156.67" y="469.10" width="2.67" height="2.30"/><rect x="159.33" y="469.10" width="2.67" height="2.30"/><rect x="162.00" y="469.20" width="2.67" height="2.20"/><rect x="164.67" y="469.20" width="2.67" height="2.20"/><rect x="167.33" y="469.20" width="2.67" height="2.20"/><rect x="170.00" y="469.60" width="2.31" height="1.80"/><rect x="172.31" y="469.60" width="2.31" height="1.80"/><rect x="174.62" y="469.60" width="2.31" height="1.80"/><rect x="176.92" y="469.60" width="2.31" height="1.80"/><rect x="179.23" y="469.60" width="2.31" height="1.80"/><rect x="181.54" y="469.60" width="2.31" height="1.80"/><rect x="183.85" y="469.60" width="2.31" height="1.80"/><rect x="186.15" y="469.60" width="2.31" height="1.80"/><rect x="188.46" y="469.60" width="2.31" height="1.80"/><rect x="190.77" y="469.60" width="2.31" height="1.80"/><rect x="193.08" y="469.60" width="2.31" height="1.80"/><rect x="195.38" y="469.60" width="2.31" height="1.80"/><rect x="197.69" y="469.60" width="2.31" height="1.80"/><rect x="200.00" y="469.90" width="2.31" height="1.50"/><rect x="202.31" y="469.90" width="2.31" height="1.50"/><rect x="204.62" y="469.90" width="2.31" height="1.50"/><rect x="206.92" y="469.90" width="2.31" height="1.50"/><rect x="209.23" y="469.90" width="2.31" height="1.50"/><rect x="211.54" y="469.90" width="2.31" height="1.50"/><rect x="213.85" y="469.90" width="2.31" height="1.50"/><rect x="216.15" y="469.90" width="2.31" height="1.50"/><rect x="218.46" y="469.90" width="2.31" height="1.50"/><rect x="220.77" y="469.90" width="2.31" height="1.50"/><rect x="223.08" y="469.90" width="2.31" height="1.50"/><rect x="225.38" y="469.90" width="2.31" height="1.50"/><rect x="227.69" y="469.90" width="2.31" height="1.50"/><rect x="230.00" y="469.90" width="2.31" height="1.50"/><rect x="232.31" y="469.90" width="2.31" height="1.50"/><rect x="234.62" y="469.90" width="2.31" height="1.50"/><rect x="236.92" y="469.90" width="2.31" height="1.50"/><rect x="239.23" y="469.90" width="2.31" height="1.50"/><rect x="241.54" y="469.90" width="2.31" height="1.50"/><rect x="243.85" y="469.90" width="2.31" height="1.50"/><rect x="246.15" y="469.90" width="2.31" height="1.50"/><rect x="248.46" y="469.90" width="2.31" height="1.50"/><rect x="250.77" y="469.90" width="2.31" height="1.50"/><rect x="253.08" y="469.90" width="2.31" height="1.50"/><rect x="255.38" y="469.90" width="2.31" height="1.50"/><rect x="257.69" y="469.90" width="2.31" height="1.50"/><rect x="260.00" y="470.20" width="2.26" height="1.20"/><rect x="262.26" y="470.20" width="2.26" height="1.20"/><rect x="264.51" y="470.20" width="2.26" height="1.20"/><rect x="266.77" y="470.20" width="2.26" height="1.20"/><rect x="269.03" y="470.20" width="2.26" height="1.20"/><rect x="271.28" y="470.20" width="2.26" height="1.20"/><rect x="273.54" y="470.20" width="2.26" height="1.20"/><rect x="275.80" y="470.20" width="2.26" height="1.20"/><rect x="278.05" y="470.20" width="2.26" height="1.20"/><rect x="280.31" y="470.20" width="2.26" height="1.20"/><rect x="282.57" y="470.20" width="2.26" height="1.20"/><rect x="284.82" y="470.20" width="2.26" height="1.20"/><rect x="287.08" y="470.20" width="2.26" height="1.20"/><rect x="289.33" y="470.20" width="2.26" height="1.20"/><rect x="291.59" y="470.20" width="2.26" height="1.20"/><rect x="293.85" y="470.20" width="2.26" height="1.20"/><rect x="296.10" y="470.20" width="2.26" height="1.20"/><rect x="298.36" y="470.20" width="2.26" height="1.20"/><rect x="300.62" y="470.20" width="2.26" height="1.20"/><rect x="302.87" y="470.20" width="2.26" height="1.20"/><rect x="305.13" y="470.20" width="2.26" height="1.20"/><rect x="307.39" y="470.20" width="2.26" height="1.20"/><rect x="309.64" y="470.20" width="2.26" height="1.20"/></g>
<path class="band" d="M38.20,469.64 L39.57,469.17 L40.94,468.45 L42.31,467.48 L43.68,466.30 L45.05,464.92 L46.42,463.38 L47.79,461.68 L49.16,459.87 L50.53,457.95 L51.90,455.96 L53.27,453.91 L54.64,451.83 L56.01,449.75 L57.38,447.68 L58.75,445.64 L60.12,443.62 L61.49,441.62 L62.86,439.65 L64.23,437.70 L65.60,435.76 L66.97,433.86 L68.34,431.97 L69.71,430.10 L71.08,428.25 L72.45,426.43 L73.82,424.62 L75.19,422.83 L76.56,421.06 L77.93,419.31 L79.30,417.58 L80.67,415.87 L82.04,414.17 L83.41,412.51 L84.77,410.87 L86.14,409.27 L87.51,407.72 L88.88,406.21 L90.25,404.76 L91.62,403.37 L92.99,402.05 L94.36,400.79 L95.73,399.61 L97.10,398.52 L98.47,397.52 L99.84,396.61 L101.21,395.79 L102.58,395.08 L103.95,394.45 L105.32,393.90 L106.69,393.42 L108.06,393.00 L109.43,392.62 L110.80,392.29 L112.17,391.99 L113.54,391.71 L114.91,391.44 L116.28,391.18 L117.65,390.91 L119.02,390.64 L120.39,390.36 L121.76,390.08 L123.13,389.80 L124.50,389.52 L125.87,389.23 L127.24,388.93 L128.61,388.64 L129.98,388.34 L131.35,388.04 L132.72,387.73 L134.09,387.42 L135.46,387.11 L136.83,386.79 L138.20,386.47 L139.57,386.15 L140.94,385.83 L142.31,385.50 L143.68,385.16 L145.05,384.83 L146.42,384.49 L147.79,384.14 L149.16,383.80 L150.53,383.45 L151.90,383.10 L153.27,382.74 L154.64,382.38 L156.01,382.02 L157.38,381.65 L158.75,381.28 L160.12,380.91 L161.49,380.53 L162.86,380.15 L164.23,379.77 L165.60,379.38 L166.97,378.99 L168.34,378.60 L169.71,378.20 L171.08,377.80 L172.45,377.40 L173.82,376.99 L175.18,376.58 L176.55,376.17 L177.92,375.75 L179.29,375.33 L180.66,374.91 L182.03,374.48 L183.40,374.05 L184.77,373.62 L186.14,373.18 L187.51,372.74 L188.88,372.30 L190.25,371.85 L191.62,371.40 L192.99,370.95 L194.36,370.49 L195.73,370.03 L197.10,369.57 L198.47,369.10 L199.84,368.63 L201.21,368.16 L202.58,367.68 L203.95,367.20 L205.32,366.72 L206.69,366.23 L208.06,365.74 L209.43,365.25 L210.80,364.75 L212.17,364.25 L213.54,363.75 L214.91,363.24 L216.28,362.73 L217.65,362.22 L219.02,361.71 L220.39,361.19 L221.76,360.66 L223.13,360.14 L224.50,359.61 L225.87,359.08 L227.24,358.54 L228.61,358.00 L229.98,357.46 L231.35,356.91 L232.72,356.37 L234.09,355.81 L235.46,355.26 L236.83,354.70 L238.20,354.14 L239.57,353.57 L240.94,353.01 L242.31,352.43 L243.68,351.86 L245.05,351.28 L246.42,350.70 L247.79,350.12 L249.16,349.53 L250.53,348.94 L251.90,348.34 L253.27,347.75 L254.64,347.15 L256.01,346.54 L257.38,345.93 L258.75,345.32 L260.12,344.71 L261.49,344.09 L262.86,343.47 L264.23,342.85 L265.59,342.22 L266.96,341.59 L268.33,340.96 L269.70,340.33 L271.07,339.69 L272.44,339.04 L273.81,338.40 L275.18,337.75 L276.55,337.10 L277.92,336.44 L279.29,335.78 L280.66,335.12 L282.03,334.46 L283.40,333.79 L284.77,333.12 L286.14,332.44 L287.51,331.76 L288.88,331.08 L290.25,330.40 L291.62,329.71 L292.99,329.02 L294.36,328.33 L295.73,327.63 L297.10,326.93 L298.47,326.23 L299.84,325.52 L301.21,324.81 L302.58,324.10 L303.95,323.38 L305.32,322.66 L306.69,321.94 L308.06,321.22 L309.43,320.49 L310.80,319.76 L310.80,399.28 L309.43,399.33 L308.06,399.38 L306.69,399.42 L305.32,399.47 L303.95,399.51 L302.58,399.54 L301.21,399.58 L299.84,399.62 L298.47,399.65 L297.10,399.68 L295.73,399.71 L294.36,399.73 L292.99,399.76 L291.62,399.78 L290.25,399.80 L288.88,399.82 L287.51,399.84 L286.14,399.86 L284.77,399.87 L283.40,399.89 L282.03,399.90 L280.66,399.91 L279.29,399.92 L277.92,399.93 L276.55,399.94 L275.18,399.94 L273.81,399.95 L272.44,399.95 L271.07,399.95 L269.70,399.96 L268.33,399.96 L266.96,399.96 L265.59,399.95 L264.23,399.95 L262.86,399.95 L261.49,399.95 L260.12,399.94 L258.75,399.94 L257.38,399.93 L256.01,399.93 L254.64,399.92 L253.27,399.91 L251.90,399.91 L250.53,399.90 L249.16,399.89 L247.79,399.88 L246.42,399.87 L245.05,399.87 L243.68,399.86 L242.31,399.85 L240.94,399.84 L239.57,399.83 L238.20,399.82 L236.83,399.81 L235.46,399.80 L234.09,399.79 L232.72,399.79 L231.35,399.78 L229.98,399.77 L228.61,399.76 L227.24,399.76 L225.87,399.75 L224.50,399.74 L223.13,399.74 L221.76,399.73 L220.39,399.73 L219.02,399.73 L217.65,399.72 L216.28,399.72 L214.91,399.72 L213.54,399.72 L212.17,399.72 L210.80,399.72 L209.43,399.72 L208.06,399.73 L206.69,399.73 L205.32,399.74 L203.95,399.75 L202.58,399.75 L201.21,399.76 L199.84,399.77 L198.47,399.79 L197.10,399.80 L195.73,399.81 L194.36,399.83 L192.99,399.85 L191.62,399.87 L190.25,399.89 L188.88,399.91 L187.51,399.94 L186.14,399.96 L184.77,399.99 L183.40,400.02 L182.03,400.06 L180.66,400.09 L179.29,400.13 L177.92,400.16 L176.55,400.20 L175.18,400.25 L173.82,400.29 L172.45,400.34 L171.08,400.39 L169.71,400.44 L168.34,400.49 L166.97,400.55 L165.60,400.61 L164.23,400.67 L162.86,400.73 L161.49,400.80 L160.12,400.87 L158.75,400.94 L157.38,401.01 L156.01,401.09 L154.64,401.17 L153.27,401.25 L151.90,401.34 L150.53,401.43 L149.16,401.52 L147.79,401.61 L146.42,401.71 L145.05,401.81 L143.68,401.92 L142.31,402.02 L140.94,402.14 L139.57,402.25 L138.20,402.37 L136.83,402.49 L135.46,402.61 L134.09,402.74 L132.72,402.87 L131.35,403.00 L129.98,403.14 L128.61,403.28 L127.24,403.43 L125.87,403.57 L124.50,403.72 L123.13,403.88 L121.76,404.04 L120.39,404.20 L119.02,404.36 L117.65,404.53 L116.28,404.70 L114.91,404.87 L113.54,405.05 L112.17,405.24 L110.80,405.45 L109.43,405.68 L108.06,405.94 L106.69,406.22 L105.32,406.54 L103.95,406.90 L102.58,407.31 L101.21,407.77 L99.84,408.28 L98.47,408.86 L97.10,409.49 L95.73,410.20 L94.36,410.98 L92.99,411.82 L91.62,412.73 L90.25,413.70 L88.88,414.74 L87.51,415.83 L86.14,416.99 L84.77,418.20 L83.41,419.46 L82.04,420.78 L80.67,422.15 L79.30,423.57 L77.93,425.03 L76.56,426.54 L75.19,428.10 L73.82,429.70 L72.45,431.34 L71.08,433.02 L69.71,434.73 L68.34,436.48 L66.97,438.26 L65.60,440.08 L64.23,441.92 L62.86,443.80 L61.49,445.70 L60.12,447.63 L58.75,449.60 L57.38,451.60 L56.01,453.65 L54.64,455.72 L53.27,457.78 L51.90,459.80 L50.53,461.74 L49.16,463.56 L47.79,465.22 L46.42,466.70 L45.05,467.99 L43.68,469.07 L42.31,469.91 L40.94,470.51 L39.57,470.85 L38.20,470.92 Z"/>
<path class="glow" d="M38.20,470.20 L39.29,470.04 L40.39,469.70 L41.48,469.21 L42.58,468.55 L43.67,467.75 L44.77,466.82 L45.86,465.75 L46.96,464.57 L48.05,463.27 L49.15,461.86 L50.24,460.36 L51.34,458.79 L52.43,457.16 L53.53,455.48 L54.62,453.79 L55.72,452.09 L56.81,450.40 L57.91,448.74 L59.00,447.10 L60.10,445.48 L61.19,443.89 L62.29,442.32 L63.38,440.77 L64.47,439.25 L65.57,437.75 L66.66,436.26 L67.76,434.80 L68.85,433.36 L69.95,431.93 L71.04,430.53 L72.14,429.14 L73.23,427.78 L74.33,426.43 L75.42,425.10 L76.52,423.80 L77.61,422.52 L78.71,421.26 L79.80,420.03 L80.90,418.82 L81.99,417.64 L83.09,416.48 L84.18,415.36 L85.28,414.26 L86.37,413.19 L87.47,412.16 L88.56,411.15 L89.65,410.18 L90.75,409.24 L91.84,408.33 L92.94,407.47 L94.03,406.63 L95.13,405.84 L96.22,405.08 L97.32,404.36 L98.41,403.68 L99.51,403.04 L100.60,402.44 L101.70,401.89 L102.79,401.37 L103.89,400.90 L104.98,400.46 L106.08,400.05 L107.17,399.67 L108.27,399.33 L109.36,399.01 L110.46,398.73 L111.55,398.46 L112.64,398.22 L113.74,398.00 L114.83,397.80 L115.93,397.61 L117.02,397.44 L118.12,397.29 L119.21,397.14 L120.31,397.01 L121.40,396.88 L122.50,396.76 L123.59,396.64 L124.69,396.52 L125.78,396.40 L126.88,396.28 L127.97,396.16 L129.07,396.03 L130.16,395.91 L131.26,395.78 L132.35,395.64 L133.45,395.51 L134.54,395.37 L135.64,395.24 L136.73,395.10 L137.82,394.95 L138.92,394.81 L140.01,394.66 L141.11,394.52 L142.20,394.37 L143.30,394.22 L144.39,394.07 L145.49,393.91 L146.58,393.76 L147.68,393.60 L148.77,393.44 L149.87,393.29 L150.96,393.13 L152.06,392.97 L153.15,392.80 L154.25,392.64 L155.34,392.48 L156.44,392.31 L157.53,392.15 L158.63,391.98 L159.72,391.82 L160.82,391.65 L161.91,391.49 L163.00,391.32 L164.10,391.15 L165.19,390.98 L166.29,390.82 L167.38,390.65 L168.48,390.48 L169.57,390.31 L170.67,390.15 L171.76,389.98 L172.86,389.81 L173.95,389.64 L175.05,389.48 L176.14,389.31 L177.24,389.14 L178.33,388.98 L179.43,388.81 L180.52,388.64 L181.62,388.47 L182.71,388.31 L183.81,388.14 L184.90,387.97 L186.00,387.80 L187.09,387.64 L188.18,387.47 L189.28,387.30 L190.37,387.13 L191.47,386.97 L192.56,386.80 L193.66,386.63 L194.75,386.46 L195.85,386.30 L196.94,386.13 L198.04,385.96 L199.13,385.79 L200.23,385.62 L201.32,385.46 L202.42,385.29 L203.51,385.12 L204.61,384.95 L205.70,384.78 L206.80,384.61 L207.89,384.45 L208.99,384.28 L210.08,384.11 L211.18,383.94 L212.27,383.77 L213.36,383.60 L214.46,383.43 L215.55,383.26 L216.65,383.09 L217.74,382.92 L218.84,382.75 L219.93,382.58 L221.03,382.41 L222.12,382.24 L223.22,382.07 L224.31,381.90 L225.41,381.73 L226.50,381.56 L227.60,381.39 L228.69,381.22 L229.79,381.04 L230.88,380.87 L231.98,380.70 L233.07,380.53 L234.17,380.36 L235.26,380.18 L236.36,380.01 L237.45,379.84 L238.54,379.66 L239.64,379.49 L240.73,379.32 L241.83,379.14 L242.92,378.97 L244.02,378.80 L245.11,378.62 L246.21,378.45 L247.30,378.27 L248.40,378.10 L249.49,377.92 L250.59,377.75 L251.68,377.57 L252.78,377.39 L253.87,377.22 L254.97,377.04 L256.06,376.86 L257.16,376.69 L258.25,376.51 L259.35,376.33 L260.44,376.15 L261.53,375.97 L262.63,375.79 L263.72,375.62 L264.82,375.44 L265.91,375.26 L267.01,375.08 L268.10,374.90 L269.20,374.71 L270.29,374.53 L271.39,374.35 L272.48,374.17 L273.58,373.99 L274.67,373.81 L275.77,373.62 L276.86,373.44 L277.96,373.26 L279.05,373.07 L280.15,372.89 L281.24,372.71 L282.34,372.52 L283.43,372.33 L284.53,372.15 L285.62,371.96 L286.71,371.78 L287.81,371.59 L288.90,371.40 L290.00,371.22 L291.09,371.03 L292.19,370.84 L293.28,370.65 L294.38,370.46 L295.47,370.27 L296.57,370.08 L297.66,369.89 L298.76,369.70 L299.85,369.51 L300.95,369.32 L302.04,369.13 L303.14,368.93 L304.23,368.74 L305.33,368.55 L306.42,368.35 L307.52,368.16 L308.61,367.96 L309.71,367.77 L310.80,367.57"/>
<path class="ln" d="M38.20,470.20 L39.29,470.04 L40.39,469.70 L41.48,469.21 L42.58,468.55 L43.67,467.75 L44.77,466.82 L45.86,465.75 L46.96,464.57 L48.05,463.27 L49.15,461.86 L50.24,460.36 L51.34,458.79 L52.43,457.16 L53.53,455.48 L54.62,453.79 L55.72,452.09 L56.81,450.40 L57.91,448.74 L59.00,447.10 L60.10,445.48 L61.19,443.89 L62.29,442.32 L63.38,440.77 L64.47,439.25 L65.57,437.75 L66.66,436.26 L67.76,434.80 L68.85,433.36 L69.95,431.93 L71.04,430.53 L72.14,429.14 L73.23,427.78 L74.33,426.43 L75.42,425.10 L76.52,423.80 L77.61,422.52 L78.71,421.26 L79.80,420.03 L80.90,418.82 L81.99,417.64 L83.09,416.48 L84.18,415.36 L85.28,414.26 L86.37,413.19 L87.47,412.16 L88.56,411.15 L89.65,410.18 L90.75,409.24 L91.84,408.33 L92.94,407.47 L94.03,406.63 L95.13,405.84 L96.22,405.08 L97.32,404.36 L98.41,403.68 L99.51,403.04 L100.60,402.44 L101.70,401.89 L102.79,401.37 L103.89,400.90 L104.98,400.46 L106.08,400.05 L107.17,399.67 L108.27,399.33 L109.36,399.01 L110.46,398.73 L111.55,398.46 L112.64,398.22 L113.74,398.00 L114.83,397.80 L115.93,397.61 L117.02,397.44 L118.12,397.29 L119.21,397.14 L120.31,397.01 L121.40,396.88 L122.50,396.76 L123.59,396.64 L124.69,396.52 L125.78,396.40 L126.88,396.28 L127.97,396.16 L129.07,396.03 L130.16,395.91 L131.26,395.78 L132.35,395.64 L133.45,395.51 L134.54,395.37 L135.64,395.24 L136.73,395.10 L137.82,394.95 L138.92,394.81 L140.01,394.66 L141.11,394.52 L142.20,394.37 L143.30,394.22 L144.39,394.07 L145.49,393.91 L146.58,393.76 L147.68,393.60 L148.77,393.44 L149.87,393.29 L150.96,393.13 L152.06,392.97 L153.15,392.80 L154.25,392.64 L155.34,392.48 L156.44,392.31 L157.53,392.15 L158.63,391.98 L159.72,391.82 L160.82,391.65 L161.91,391.49 L163.00,391.32 L164.10,391.15 L165.19,390.98 L166.29,390.82 L167.38,390.65 L168.48,390.48 L169.57,390.31 L170.67,390.15 L171.76,389.98 L172.86,389.81 L173.95,389.64 L175.05,389.48 L176.14,389.31 L177.24,389.14 L178.33,388.98 L179.43,388.81 L180.52,388.64 L181.62,388.47 L182.71,388.31 L183.81,388.14 L184.90,387.97 L186.00,387.80 L187.09,387.64 L188.18,387.47 L189.28,387.30 L190.37,387.13 L191.47,386.97 L192.56,386.80 L193.66,386.63 L194.75,386.46 L195.85,386.30 L196.94,386.13 L198.04,385.96 L199.13,385.79 L200.23,385.62 L201.32,385.46 L202.42,385.29 L203.51,385.12 L204.61,384.95 L205.70,384.78 L206.80,384.61 L207.89,384.45 L208.99,384.28 L210.08,384.11 L211.18,383.94 L212.27,383.77 L213.36,383.60 L214.46,383.43 L215.55,383.26 L216.65,383.09 L217.74,382.92 L218.84,382.75 L219.93,382.58 L221.03,382.41 L222.12,382.24 L223.22,382.07 L224.31,381.90 L225.41,381.73 L226.50,381.56 L227.60,381.39 L228.69,381.22 L229.79,381.04 L230.88,380.87 L231.98,380.70 L233.07,380.53 L234.17,380.36 L235.26,380.18 L236.36,380.01 L237.45,379.84 L238.54,379.66 L239.64,379.49 L240.73,379.32 L241.83,379.14 L242.92,378.97 L244.02,378.80 L245.11,378.62 L246.21,378.45 L247.30,378.27 L248.40,378.10 L249.49,377.92 L250.59,377.75 L251.68,377.57 L252.78,377.39 L253.87,377.22 L254.97,377.04 L256.06,376.86 L257.16,376.69 L258.25,376.51 L259.35,376.33 L260.44,376.15 L261.53,375.97 L262.63,375.79 L263.72,375.62 L264.82,375.44 L265.91,375.26 L267.01,375.08 L268.10,374.90 L269.20,374.71 L270.29,374.53 L271.39,374.35 L272.48,374.17 L273.58,373.99 L274.67,373.81 L275.77,373.62 L276.86,373.44 L277.96,373.26 L279.05,373.07 L280.15,372.89 L281.24,372.71 L282.34,372.52 L283.43,372.33 L284.53,372.15 L285.62,371.96 L286.71,371.78 L287.81,371.59 L288.90,371.40 L290.00,371.22 L291.09,371.03 L292.19,370.84 L293.28,370.65 L294.38,370.46 L295.47,370.27 L296.57,370.08 L297.66,369.89 L298.76,369.70 L299.85,369.51 L300.95,369.32 L302.04,369.13 L303.14,368.93 L304.23,368.74 L305.33,368.55 L306.42,368.35 L307.52,368.16 L308.61,367.96 L309.71,367.77 L310.80,367.57"/>
<line class="dash" x1="97.1" y1="311.7" x2="97.1" y2="478.7" stroke-dasharray="2.75 2.75" stroke-dashoffset="0.7"/>
<text class="pt" x="158.4" y="327.8" textLength="79.1" lengthAdjust="spacingAndGlyphs"><tspan font-style="italic">P</tspan><tspan dx="-1.2"> for overall&lt;0.001</tspan></text><text class="pt" x="158.4" y="339.7" textLength="90.0" lengthAdjust="spacingAndGlyphs"><tspan font-style="italic">P</tspan><tspan dx="-1.2"> for nonlinear&lt;0.001</tspan></text>
<rect class="box" x="23.5" y="311.7" width="301.8" height="167.0"/>
<line class="tk" x1="21.3" y1="471.8" x2="23.5" y2="471.8"/><text class="tl" x="20.5" y="475.40000000000003" text-anchor="end">0</text><line class="tk" x1="21.3" y1="426.7" x2="23.5" y2="426.7"/><text class="tl" x="20.5" y="430.3" text-anchor="end">2</text><line class="tk" x1="21.3" y1="381.6" x2="23.5" y2="381.6"/><text class="tl" x="20.5" y="385.20000000000005" text-anchor="end">4</text><line class="tk" x1="21.3" y1="336.5" x2="23.5" y2="336.5"/><text class="tl" x="20.5" y="340.1" text-anchor="end">6</text>
<line class="tk" x1="35.7" y1="478.7" x2="35.7" y2="480.9"/><text class="tl" x="35.7" y="489.0" text-anchor="middle">0</text><line class="tk" x1="91.2" y1="478.7" x2="91.2" y2="480.9"/><text class="tl" x="91.2" y="489.0" text-anchor="middle">5</text><line class="tk" x1="146.7" y1="478.7" x2="146.7" y2="480.9"/><text class="tl" x="146.7" y="489.0" text-anchor="middle">10</text><line class="tk" x1="202.2" y1="478.7" x2="202.2" y2="480.9"/><text class="tl" x="202.2" y="489.0" text-anchor="middle">15</text><line class="tk" x1="257.7" y1="478.7" x2="257.7" y2="480.9"/><text class="tl" x="257.7" y="489.0" text-anchor="middle">20</text>
<text class="ax" x="163.5" y="500.1" textLength="20.8" lengthAdjust="spacingAndGlyphs">CMI</text>
<text class="ay" transform="translate(9.7,417.4) rotate(-90)" textLength="43.3" lengthAdjust="spacingAndGlyphs">OR(95%)</text>
</svg>
</body></html>
